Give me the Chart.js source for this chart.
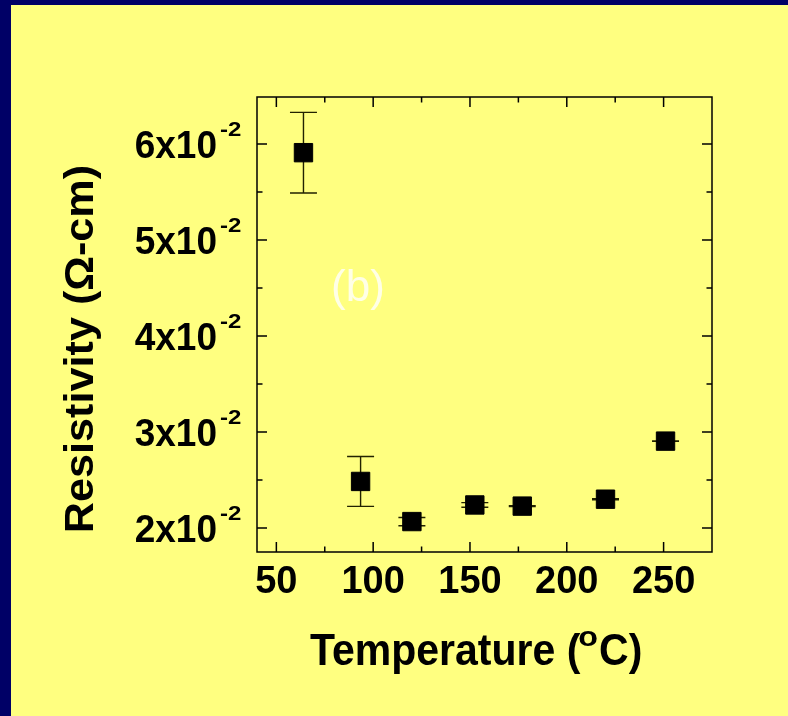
<!DOCTYPE html>
<html>
<head>
<meta charset="utf-8">
<script src="https://cdn.jsdelivr.net/npm/chart.js@4.4.1/dist/chart.umd.min.js"></script>
<style>
  html, body { margin: 0; padding: 0; background: #000066; }
  #wrap { width: 788px; height: 716px; }
</style>
</head>
<body>
<div id="wrap"><canvas id="chart" width="788" height="716"></canvas></div>
<script>
// Values (resistivity in ohm-cm)
const temperatures = [64, 93.5, 120, 152.5, 177, 220, 251];
const resistivity = [0.0591, 0.02485, 0.02067, 0.0224, 0.02228, 0.0230, 0.02905];
const resistivityErr = [0.0042, 0.0026, 0.00043, 0.00024, 0.00005, 0.00005, 0.00003];

// Axis ticks and labels
const xTicks = [50, 100, 150, 200, 250];
const xMinorTicks = [75, 125, 175, 225];
const yTicks = [0.02, 0.03, 0.04, 0.05, 0.06];
const yMinorTicks = [0.025, 0.035, 0.045, 0.055];
const yTickLabels = ['2x10', '3x10', '4x10', '5x10', '6x10'];
const yTickExponent = '-2';

const xTitleParts = ['Temperature (', 'o', 'C)'];
const yTitle = 'Resistivity (\u03A9-cm)';
const panelLabel = '(b)';

const FONT = '"Liberation Sans", Arial, sans-serif';

// draw text, optionally stretched
function drawText(ctx, str, x, y, font, align, scaleX, scaleY) {
    ctx.save();
    ctx.font = font;
    ctx.textAlign = align || 'left';
    ctx.textBaseline = 'alphabetic';
    ctx.translate(x, y);
    ctx.scale(scaleX || 1, scaleY || 1);
    ctx.fillText(str, 0, 0);
    ctx.restore();
}

const backgroundPlugin = {
    id: 'slideBackground',
    beforeDraw(chart) {
        const ctx = chart.ctx;
        ctx.save();
        ctx.fillStyle = '#000066';
        ctx.fillRect(0, 0, chart.width, chart.height);
        ctx.fillStyle = '#FFFF80';
        ctx.fillRect(11, 5, chart.width - 11, chart.height - 5);
        ctx.restore();
    }
};

const errorBarPlugin = {
    id: 'errorBars',
    beforeDatasetsDraw(chart) {
        const xs = chart.scales.x, ys = chart.scales.y, ctx = chart.ctx;
        ctx.save();
        ctx.strokeStyle = '#222200';
        ctx.lineWidth = 1.4;
        temperatures.forEach((t, i) => {
            const px = xs.getPixelForValue(t);
            const top = ys.getPixelForValue(resistivity[i] + resistivityErr[i]);
            const bot = ys.getPixelForValue(resistivity[i] - resistivityErr[i]);
            ctx.beginPath();
            ctx.moveTo(px, top); ctx.lineTo(px, bot);
            ctx.moveTo(px - 13.5, top); ctx.lineTo(px + 13.5, top);
            ctx.moveTo(px - 13.5, bot); ctx.lineTo(px + 13.5, bot);
            ctx.stroke();
        });
        ctx.restore();
    }
};

const framePlugin = {
    id: 'frameAndLabels',
    afterDraw(chart) {
        const ctx = chart.ctx;
        const xs = chart.scales.x, ys = chart.scales.y;
        const a = chart.chartArea;
        ctx.save();
        ctx.strokeStyle = '#000';
        ctx.lineWidth = 1.5;
        ctx.strokeRect(a.left, a.top, a.right - a.left, a.bottom - a.top);

        // inward ticks on all four sides
        ctx.beginPath();
        const xTick = (v, len) => {
            const px = xs.getPixelForValue(v);
            ctx.moveTo(px, a.bottom); ctx.lineTo(px, a.bottom - len);
            ctx.moveTo(px, a.top); ctx.lineTo(px, a.top + len);
        };
        const yTick = (v, len) => {
            const py = ys.getPixelForValue(v);
            ctx.moveTo(a.left, py); ctx.lineTo(a.left + len, py);
            ctx.moveTo(a.right, py); ctx.lineTo(a.right - len, py);
        };
        xTicks.forEach(v => xTick(v, 10));
        xMinorTicks.forEach(v => xTick(v, 5.5));
        yTicks.forEach(v => yTick(v, 10));
        yMinorTicks.forEach(v => yTick(v, 5.5));
        ctx.stroke();

        ctx.fillStyle = '#000';
        // x tick labels
        xTicks.forEach(v => {
            drawText(ctx, String(v), xs.getPixelForValue(v), 593, 'bold 38px ' + FONT, 'center', 1, 1.02);
        });
        // y tick labels with superscript exponent
        yTicks.forEach((v, i) => {
            const py = ys.getPixelForValue(v);
            drawText(ctx, yTickLabels[i], 217, py + 14, 'bold 37px ' + FONT, 'right', 1, 1.05);
            drawText(ctx, yTickExponent, 220, py - 8.5, 'bold 20px ' + FONT, 'left', 1.2);
        });

        // x title
        const titleFont = 'bold 41px ' + FONT;
        ctx.font = titleFont;
        const w1 = ctx.measureText(xTitleParts[0]).width;
        drawText(ctx, xTitleParts[0], 310, 665, titleFont, 'left', 1, 1.07);
        const supFont = 'bold 28px ' + FONT;
        ctx.font = supFont;
        const w2 = ctx.measureText(xTitleParts[1]).width * 1.15;
        drawText(ctx, xTitleParts[1], 310 + w1 - 2, 646, supFont, 'left', 1.15);
        drawText(ctx, xTitleParts[2], 310 + w1 - 2 + w2 + 1, 665, titleFont, 'left', 1, 1.07);

        // y title, rotated
        ctx.save();
        ctx.translate(93, 349);
        ctx.rotate(-Math.PI / 2);
        drawText(ctx, yTitle, 0, 0, 'bold 40px ' + FONT, 'center', 1.08);
        ctx.restore();

        // panel label
        ctx.fillStyle = '#FFFFE6';
        drawText(ctx, panelLabel, 358, 301, '44px ' + FONT, 'center');
        ctx.restore();
    }
};

const points = temperatures.map((t, i) => ({ x: t, y: resistivity[i] }));

new Chart(document.getElementById('chart'), {
    type: 'scatter',
    data: {
        datasets: [{
            data: points,
            pointStyle: 'rect',
            pointRadius: 13,
            pointHoverRadius: 13,
            backgroundColor: '#000',
            borderColor: '#000',
            borderWidth: 1,
            showLine: false
        }]
    },
    options: {
        responsive: false,
        animation: false,
        devicePixelRatio: 1,
        layout: {
            padding: { left: 257, top: 97, right: 76, bottom: 164 }
        },
        scales: {
            x: { type: 'linear', min: 40, max: 275, display: false },
            y: { type: 'linear', min: 0.0175, max: 0.0649, display: false }
        },
        plugins: {
            legend: { display: false },
            tooltip: { enabled: false }
        }
    },
    plugins: [backgroundPlugin, errorBarPlugin, framePlugin]
});
</script>
</body>
</html>
